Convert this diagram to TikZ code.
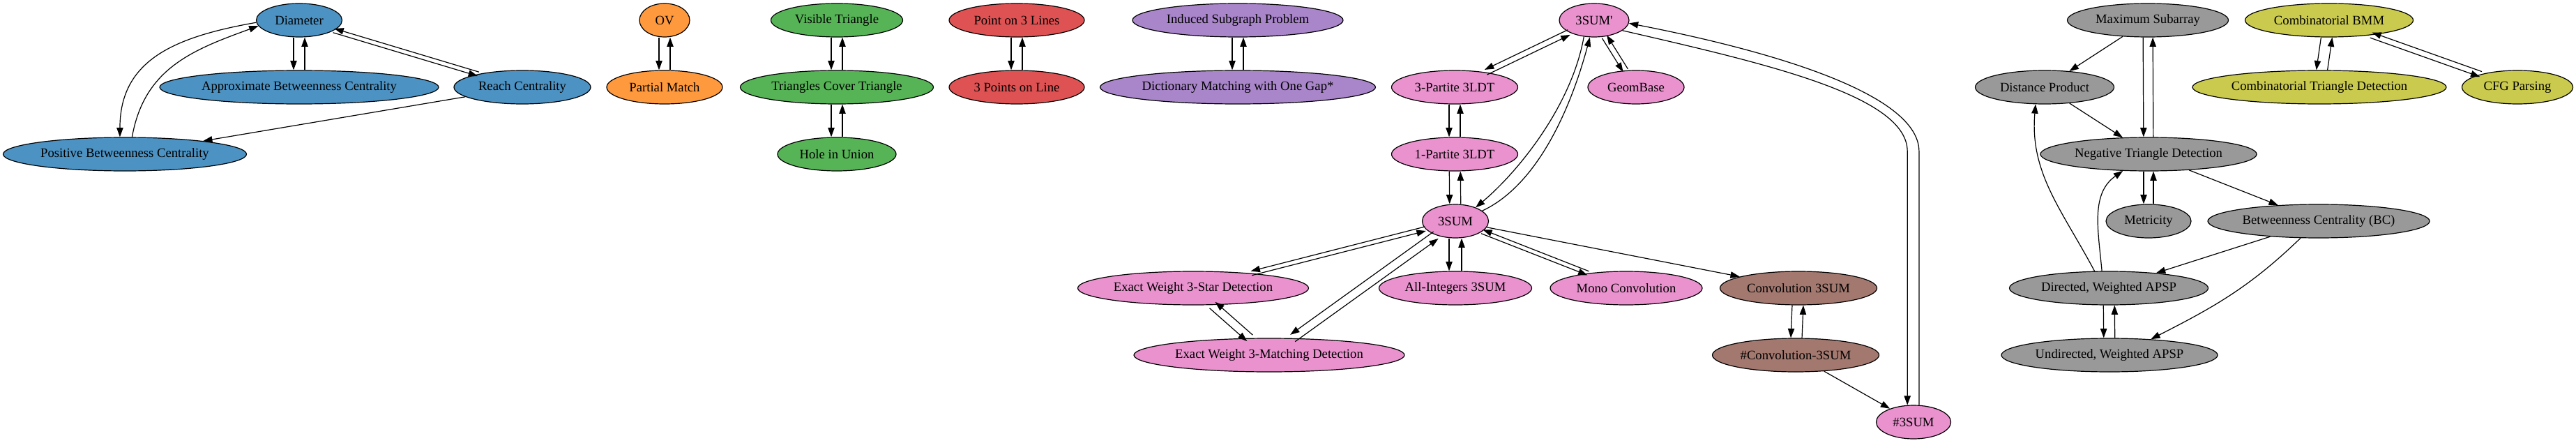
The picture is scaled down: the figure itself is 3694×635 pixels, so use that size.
\documentclass[tikz,border=0pt]{standalone}
\usepackage{fontspec}
\setmainfont{Liberation Serif}
\usepackage{tikz}
\usetikzlibrary{arrows.meta,shapes}
\definecolor{cblue}{HTML}{4C92C3}
\definecolor{corange}{HTML}{FF993E}
\definecolor{cgreen}{HTML}{56B356}
\definecolor{cred}{HTML}{DE5253}
\definecolor{cpurple}{HTML}{A985CA}
\definecolor{cpink}{HTML}{E992CE}
\definecolor{cbrown}{HTML}{A3786F}
\definecolor{cgray}{HTML}{999999}
\definecolor{colive}{HTML}{C9CA4E}
\tikzset{every node/.style={draw,ellipse,inner sep=0pt,minimum height=36pt,line width=0.9pt,
           font=\fontsize{14}{16}\selectfont},
         wd/.style={minimum width=#1*0.75pt},
         diam/.style={fill=cblue},
         ovec/.style={fill=corange},
         tri/.style={fill=cgreen},
         pts/.style={fill=cred},
         dict/.style={fill=cpurple},
         sum/.style={fill=cpink},
         conv/.style={fill=cbrown},
         apsp/.style={fill=cgray},
         bmm/.style={fill=colive},
         nudge/.style={transform canvas={shift={#1}}},
         >={Triangle[length=10pt,width=7pt]}}

\begin{document}
\begin{tikzpicture}[x=0.75pt,y=0.75pt,line width=0.9pt]
\useasboundingbox (0,0) rectangle (3694,-635);
\node[diam,wd=123] (dia) at (429,-29) {Diameter};
\node[diam,wd=400] (abc) at (429,-125) {Approximate Betweenness Centrality};
\node[diam,wd=196] (rch) at (749,-125) {Reach Centrality};
\node[diam,wd=349] (pbc) at (179,-221) {Positive Betweenness Centrality};
\node[ovec,wd=72] (ov) at (953,-29) {OV};
\node[ovec,wd=166] (pm) at (953,-125) {Partial Match};
\node[tri,wd=189] (vt) at (1200,-29) {Visible Triangle};
\node[tri,wd=277] (tct) at (1200,-125) {Triangles Cover Triangle};
\node[tri,wd=170] (hiu) at (1200,-221) {Hole in Union};
\node[pts,wd=194] (p3l) at (1458,-29) {Point on 3 Lines};
\node[pts,wd=194] (p3o) at (1458,-125) {3 Points on Line};
\node[dict,wd=302] (isp) at (1775,-29) {Induced Subgraph Problem};
\node[dict,wd=395] (dmg) at (1775,-125) {Dictionary Matching with One Gap*};
\node[sum,wd=100] (s3p) at (2286,-29) {3SUM\textquotesingle};
\node[sum,wd=181] (tpl) at (2086,-125) {3-Partite 3LDT};
\node[sum,wd=138] (geo) at (2346,-125) {GeomBase};
\node[sum,wd=181] (opl) at (2086,-221) {1-Partite 3LDT};
\node[sum,wd=95] (s3) at (2087,-317) {3SUM};
\node[sum,wd=331] (ews) at (1711,-413) {Exact Weight 3-Star Detection};
\node[sum,wd=219] (ai3) at (2087,-413) {All-Integers 3SUM};
\node[sum,wd=218] (mco) at (2332,-413) {Mono Convolution};
\node[conv,wd=225] (c3) at (2579,-413) {Convolution 3SUM};
\node[sum,wd=388] (ewm) at (1820,-509) {Exact Weight 3-Matching Detection};
\node[conv,wd=239] (nc3) at (2575,-509) {\#Convolution-3SUM};
\node[sum,wd=107] (n3) at (2744,-605) {\#3SUM};
\node[apsp,wd=231] (msa) at (3080,-29) {Maximum Subarray};
\node[apsp,wd=199] (dp) at (2932,-125) {Distance Product};
\node[apsp,wd=310] (ntd) at (3081,-221) {Negative Triangle Detection};
\node[apsp,wd=122] (met) at (3081,-317) {Metricity};
\node[apsp,wd=318] (bc) at (3325,-317) {Betweenness Centrality (BC)};
\node[apsp,wd=285] (dwa) at (3024,-413) {Directed, Weighted APSP};
\node[apsp,wd=310] (uwa) at (3025,-509) {Undirected, Weighted APSP};
\node[bmm,wd=241] (cbm) at (3340,-29) {Combinatorial BMM};
\node[bmm,wd=364] (ctd) at (3326,-125) {Combinatorial Triangle Detection};
\node[bmm,wd=159] (cfg) at (3610,-125) {CFG Parsing};

% diameter
\draw[->,nudge={(-8,0)}] (dia) -- (abc);
\draw[->,nudge={(8,0)}] (abc) -- (dia);
\draw[->,nudge={(-0.9,-2.9)}] (dia) -- (rch);
\draw[->,nudge={(0.9,2.9)}] (rch) -- (dia);
\draw[->] (dia.183) .. controls +(190:120) and +(90:110) .. (pbc.106);
\draw[->] (pbc.67) .. controls +(80:100) and +(200:100) .. (dia.188);
\draw[->] (rch) -- (pbc);
% small groups
\draw[->,nudge={(-8,0)}] (ov) -- (pm);
\draw[->,nudge={(8,0)}] (pm) -- (ov);
\draw[->,nudge={(-8,0)}] (vt) -- (tct);
\draw[->,nudge={(8,0)}] (tct) -- (vt);
\draw[->,nudge={(-8,0)}] (tct) -- (hiu);
\draw[->,nudge={(8,0)}] (hiu) -- (tct);
\draw[->,nudge={(-8,0)}] (p3l) -- (p3o);
\draw[->,nudge={(8,0)}] (p3o) -- (p3l);
\draw[->,nudge={(-8,0)}] (isp) -- (dmg);
\draw[->,nudge={(8,0)}] (dmg) -- (isp);
% 3sum
\draw[->,nudge={(-1.7,3.6)}] (s3p) -- (tpl);
\draw[->,nudge={(1.7,-3.6)}] (tpl) -- (s3p);
\draw[->,nudge={(-3.4,-2.1)}] (s3p) -- (geo);
\draw[->,nudge={(3.4,2.1)}] (geo) -- (s3p);
\draw[->] (s3p.238) .. controls +(260:100) and +(40:80) .. (s3.34);
\draw[->] (s3.21) .. controls +(25:90) and +(255:100) .. (s3p.256);
\draw[->] (s3p.340) .. controls +(-13:210) and +(0,80) .. (n3.110 |- 0,-217) -- (n3.110);
\draw[->] (n3.72) -- (n3.72 |- 0,-217) .. controls +(0,80) and +(-11:220) .. (s3p.355);
\draw[->,nudge={(-8,0)}] (tpl) -- (opl);
\draw[->,nudge={(8,0)}] (opl) -- (tpl);
\draw[->,nudge={(-8,0)}] (opl) -- (s3);
\draw[->,nudge={(8,0)}] (s3) -- (opl);
\draw[->,nudge={(-0.8,3)}] (s3) -- (ews);
\draw[->,nudge={(0.8,-3)}] (ews) -- (s3);
\draw[->,nudge={(-3.5,4.9)}] (s3) -- (ewm);
\draw[->,nudge={(3.5,-4.9)}] (ewm) -- (s3);
\draw[->,nudge={(-4,-4.5)}] (ews) -- (ewm);
\draw[->,nudge={(4,4.5)}] (ewm) -- (ews);
\draw[->,nudge={(-9,0)}] (s3) -- (ai3);
\draw[->,nudge={(9,0)}] (ai3) -- (s3);
\draw[->,nudge={(-1.1,-2.8)}] (s3) -- (mco);
\draw[->,nudge={(1.1,2.8)}] (mco) -- (s3);
\draw[->] (s3) -- (c3);
\draw[->,nudge={(-8,0)}] (c3) -- (nc3);
\draw[->,nudge={(8,0)}] (nc3) -- (c3);
\draw[->] (nc3) -- (n3);
% apsp
\draw[->] (msa) -- (dp);
\draw[->,nudge={(-7,0)}] (msa) -- (ntd);
\draw[->,nudge={(7,0)}] (ntd) -- (msa);
\draw[->] (dp) -- (ntd);
\draw[->,nudge={(-7,0)}] (ntd) -- (met);
\draw[->,nudge={(7,0)}] (met) -- (ntd);
\draw[->] (ntd) -- (bc);
\draw[->] (bc) -- (dwa);
\draw[->] (bc.223) to[out=224,in=27] (uwa.21);
\draw[->] (dwa.130) to[out=118,in=265] (dp.242);
\draw[->] (dwa.112) to[out=95,in=215] (ntd.213);
\draw[->,nudge={(-8,0)}] (dwa) -- (uwa);
\draw[->,nudge={(8,0)}] (uwa) -- (dwa);
% bmm
\draw[->,nudge={(-8,0)}] (cbm) -- (ctd);
\draw[->,nudge={(8,0)}] (ctd) -- (cbm);
\draw[->,nudge={(-1.3,-3.8)}] (cbm) -- (cfg);
\draw[->,nudge={(1.3,3.8)}] (cfg) -- (cbm);
\end{tikzpicture}
\end{document}
